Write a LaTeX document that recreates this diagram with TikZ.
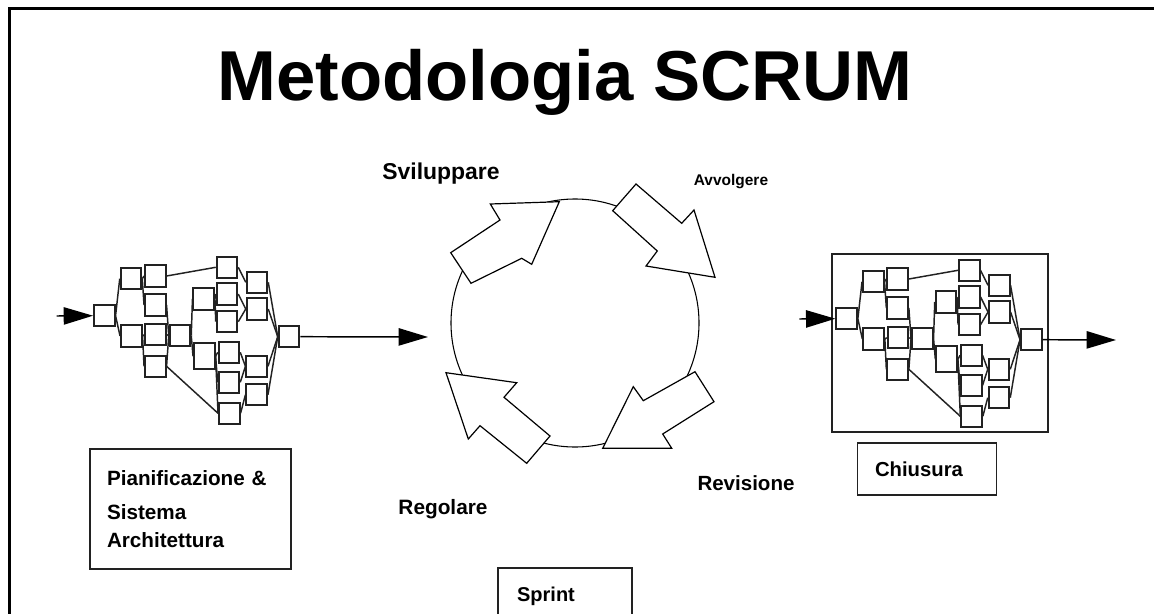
\documentclass[tikz,border=0pt]{standalone}
\usepackage{fontspec}
\setmainfont{Liberation Sans}
\usepackage{tikz}
\usetikzlibrary{arrows.meta}
\usetikzlibrary{calc}
\definecolor{linecolor}{HTML}{222222}

\tikzset{
  nbox/.style={draw=linecolor, line width=1.4pt, fill=white, minimum width=15.5pt, inner sep=0pt},
  nline/.style={draw=linecolor, line width=1.1pt},
  flow/.style={draw=black, line width=1.1pt, -{Triangle[length=22pt,width=13pt]}},
  bigbox/.style={draw=linecolor, line width=1.2pt, inner sep=0pt},
  blockarrow/.style={draw=black, line width=0.9pt, fill=white, line join=miter},
  lbl/.style={inner sep=0pt, font=\bfseries\fontsize{#1}{#1}\selectfont}
}

%% one network plan, #1/#2 = shift, #3 = prefix
\newcommand{\netzplan}[3]{%
\begin{scope}[shift={(#1,#2)}, name prefix=#3-]
  \foreach \n/\x/\y/\h in {0/104.3/315.7/16, 1/131/278.7/16, 2/155.3/276/16,
      3/155.3/305/16, 4/131.3/336/16, 5/155.7/334.7/16, 6/155.3/366.3/16,
      7/180/335.7/16, 8/227/267.3/16, 9/203.7/299/16, 10/227/294/16,
      11/227/321.7/16, 12/257/282.3/16, 13/257/309/16, 14/204.3/356.3/19.5,
      15/229/352.3/16, 16/229/382.3/16, 17/229.3/413.3/16, 18/256.7/366.3/16,
      19/256.7/394.7/16, 20/289/336.7/16}
    \node[nbox, minimum height=\h pt] (b\n) at (\x,\y) {};
  \foreach \a/\b in {0/1,0/4,1/2,1/3,4/5,4/6,3/7,5/7,6/7,2/8,6/17,7/9,7/14,9/10,9/11,
      14/15,14/16,14/17,8/12,10/13,11/13,15/18,16/18,17/19,12/20,13/20,18/20,19/20}
    \draw[nline] (b\a.east) -- (b\b.west);
\end{scope}}

\begin{document}
\begin{tikzpicture}[x=0.75pt,y=-0.75pt]
\clip (0,0) rectangle (1154,614);
\fill[white] (0,0) rectangle (1154,614);
%% slide frame
\draw[line width=2.3pt] (9.5,620) -- (9.5,8.2) -- (1160,8.2);

\node[anchor=base, inner sep=0pt, font=\bfseries\fontsize{53}{60}\selectfont] (titel) at (565,100) {Metodologia SCRUM};

%% left plan
\netzplan{0}{0}{L}
\coordinate (lin) at (56.7,316);
\coordinate (lout) at (428,337);
\draw[flow] (lin) -- (L-b0.west);
\draw[flow] (L-b20.east) -- (lout);

%% right plan
\node[bigbox, minimum width=162pt, minimum height=133.5pt] (rahmen) at (940,343) {};
\netzplan{742.3}{3}{R}
\coordinate (rin) at (799.3,319);
\coordinate (rout) at (1116,340);
\draw[flow] (rin) -- (R-b0.west);
\draw[flow] (R-b20.east) -- (rout);

%% sprint cycle
\node[draw, circle, line width=0.8pt, minimum size=186pt, inner sep=0pt] (kreis) at (575,323) {};
\draw[blockarrow] (450.7,252.7) -- (500,220) -- (490.3,204) -- (559.3,201.7) -- (531.7,264.3) -- (521.7,258.3) -- (471,283.3) -- cycle;
\draw[blockarrow] (636,184) -- (681.7,223.3) -- (694,210) -- (715,277.3) -- (646,266) -- (657.3,251) -- (612.7,210.7) -- cycle;
\draw[blockarrow] (695,371.7) -- (643.3,400.7) -- (633.3,386.7) -- (602.7,448.3) -- (671.7,448.3) -- (662.7,434) -- (714,401.7) -- cycle;
\draw[blockarrow] (550,436) -- (504,397.3) -- (516.7,382.7) -- (446,372.7) -- (468.3,439) -- (480,425.7) -- (526.7,463.3) -- cycle;

\node[lbl=17.2] (svil) at (441,174) {Sviluppare};
\node[lbl=11.6] (avv) at (731,182) {Avvolgere};
\node[lbl=15.4] (rev) at (746,483) {Revisione};
\node[lbl=15.6] (reg) at (443,509) {Regolare};

%% boxes
\node[bigbox, minimum width=150.75pt, minimum height=90pt, align=left, text width=125.25pt,
  inner xsep=12.75pt, font=\bfseries\fontsize{15.5}{21}\selectfont] (plan) at (190.5,509)
  {Pianificazione \&\\[5pt]Sistema\\Architettura};
\node[bigbox, minimum width=104.5pt, minimum height=38.8pt, align=left, text width=77.9pt,
  inner xsep=13.3pt, font=\bfseries\fontsize{15.2}{18}\selectfont] (chiu) at (927,469) {Chiusura};
\node[bigbox, minimum width=100.5pt, minimum height=69pt] (sprint) at (565,614) {};
\node[lbl=15] (sprinttxt) at (546,596) {Sprint};
\end{tikzpicture}
\end{document}
